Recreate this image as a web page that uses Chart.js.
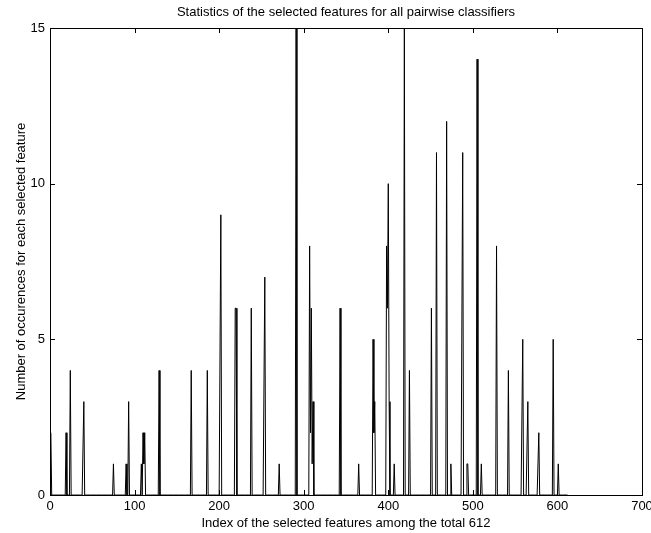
<!DOCTYPE html>
<html>
<head>
<meta charset="utf-8">
<script src="https://cdn.jsdelivr.net/npm/chart.js@4.4.0/dist/chart.umd.min.js"></script>
<style>
  html, body { margin: 0; padding: 0; background: #fff; }
  #wrap { width: 651px; height: 533px; }
</style>
</head>
<body>
<div id="wrap"><canvas id="spikeChart" width="651" height="533"></canvas></div>
<script>
// Índices das features selecionadas e quantas vezes cada uma aparece
const featureIdx = [1, 19, 24, 40, 75, 90, 93, 108, 110, 111, 112, 129, 167, 186, 202, 219, 220, 238, 254, 271,
  291, 307, 308, 309, 310, 311, 343, 365, 382, 383, 384, 398, 399, 400, 401, 407, 419, 425, 451, 457,
  469, 474, 488, 493, 494, 505, 510, 528, 542, 559, 565, 578, 595, 601];
const counts = [2, 2, 4, 3, 1, 1, 3, 1, 2, 1, 2, 4, 4, 4, 9, 6, 6, 6, 7, 1,
  15, 8, 2, 6, 1, 3, 6, 1, 5, 2, 3, 8, 6, 10, 3, 1, 15, 4, 6, 11,
  12, 1, 11, 1, 1, 14, 1, 8, 4, 5, 3, 2, 5, 1];
const totalFeatures = 612;
const xTicks = [0, 100, 200, 300, 400, 500, 600, 700];
const yTicks = [0, 5, 10, 15];

// série completa: zero onde a feature não foi escolhida
const series = [];
for (let i = 1; i <= totalFeatures; i++) series.push({ x: i, y: 0 });
featureIdx.forEach((f, k) => { series[f - 1].y = counts[k]; });

const FONT = "'Liberation Sans', Arial, sans-serif";
Chart.defaults.font.family = FONT;
Chart.defaults.font.size = 13;
Chart.defaults.color = '#000';

// caixa estilo MATLAB com marcas de tick para dentro
const boxPlugin = {
  id: 'box',
  afterDatasetsDraw(chart) {
    const { ctx, chartArea: a, scales } = chart;
    ctx.save();
    ctx.strokeStyle = '#000';
    ctx.lineWidth = 1;
    ctx.strokeRect(Math.round(a.left) + 0.5, Math.round(a.top) + 0.5,
      Math.round(a.right - a.left), Math.round(a.bottom - a.top));
    ctx.beginPath();
    xTicks.forEach(v => {
      const px = Math.round(scales.x.getPixelForValue(v)) + 0.5;
      ctx.moveTo(px, a.bottom); ctx.lineTo(px, a.bottom - 5);
      ctx.moveTo(px, a.top); ctx.lineTo(px, a.top + 5);
    });
    yTicks.forEach(v => {
      const py = Math.round(scales.y.getPixelForValue(v)) + 0.5;
      ctx.moveTo(a.left, py); ctx.lineTo(a.left + 5, py);
      ctx.moveTo(a.right, py); ctx.lineTo(a.right - 5, py);
    });
    ctx.stroke();
    ctx.restore();
  }
};

new Chart(document.getElementById('spikeChart'), {
  type: 'line',
  data: {
    datasets: [{
      data: series,
      borderColor: '#000',
      borderWidth: 1,
      pointRadius: 0,
      tension: 0,
      fill: false
    }]
  },
  options: {
    responsive: false,
    animation: false,
    layout: { padding: 0 },
    plugins: { legend: { display: false }, tooltip: { enabled: false } },
    scales: {
      x: {
        type: 'linear', min: 0, max: 700,
        afterBuildTicks: s => { s.ticks = xTicks.map(v => ({ value: v })); },
        afterFit: s => { s.height = 38; s.paddingRight = 9; s.paddingLeft = 0; },
        grid: { display: false, drawTicks: false },
        border: { display: false },
        ticks: { padding: 4, maxRotation: 0 },
        title: { display: true, text: 'Index of the selected features among the total 612', padding: { top: 0, bottom: 2 } }
      },
      top: {
        type: 'linear', position: 'top', min: 0, max: 700,
        afterFit: s => { s.height = 28; s.paddingRight = 9; s.paddingLeft = 0; },
        grid: { display: false, drawTicks: false },
        border: { display: false },
        ticks: { display: false },
        title: { display: true, text: 'Statistics of the selected features for all pairwise classifiers', padding: { top: 5, bottom: 0 } }
      },
      y: {
        min: 0, max: 15,
        afterBuildTicks: s => { s.ticks = yTicks.map(v => ({ value: v })); },
        afterFit: s => { s.width = 50; s.paddingTop = 0; s.paddingBottom = 0; },
        grid: { display: false, drawTicks: false },
        border: { display: false },
        ticks: { padding: 5 },
        title: { display: true, text: 'Number of occurences for each selected feature', padding: { top: 14, bottom: 0 } }
      }
    }
  },
  plugins: [boxPlugin]
});
</script>
</body>
</html>
